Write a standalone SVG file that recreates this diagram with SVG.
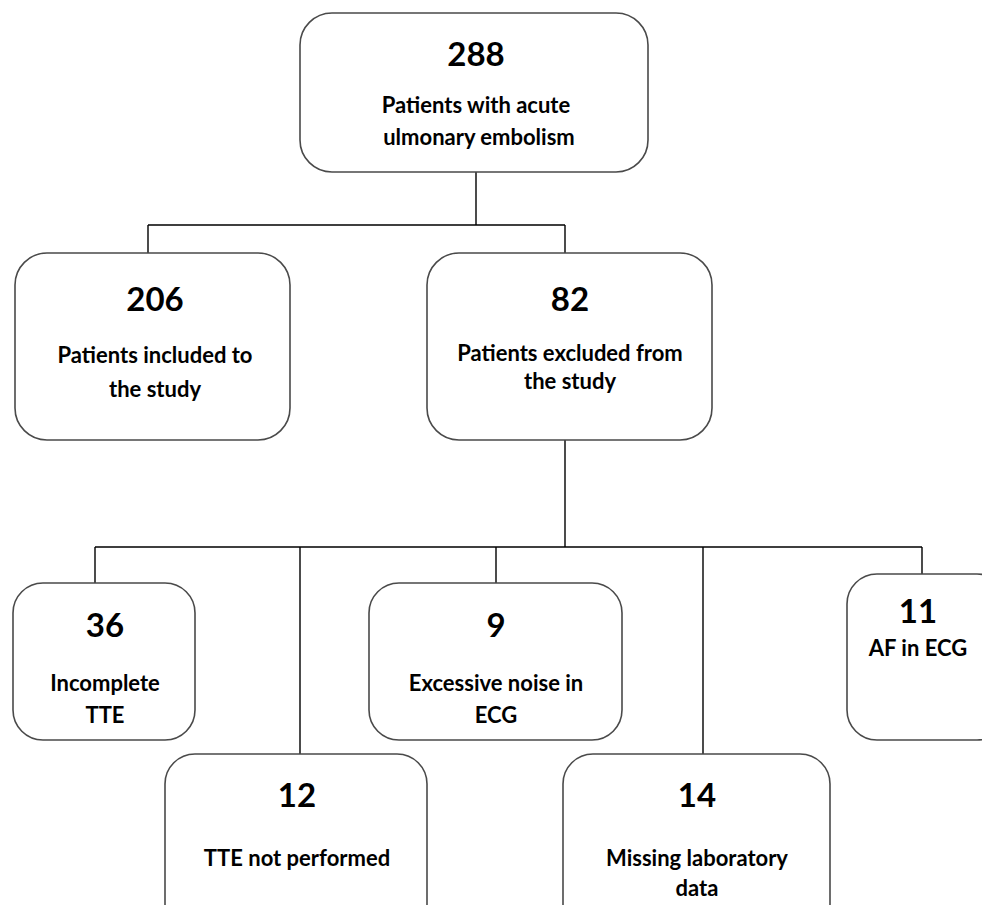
<svg xmlns="http://www.w3.org/2000/svg" width="982" height="905" viewBox="0 0 982 905">
<style>
.box{fill:#fff;stroke:#4a4a4a;stroke-width:1.6}
.num{font-family:Lato,"Liberation Sans",sans-serif;font-weight:bold;font-size:33px;fill:#000;text-anchor:middle}
.lbl{font-family:Lato,"Liberation Sans",sans-serif;font-weight:bold;font-size:22px;fill:#000;text-anchor:middle}
.conn{stroke:#000;stroke-width:1.4;fill:none}
</style>
<rect width="982" height="905" fill="#fff"/>
<g id="connectors">
<path class="conn" d="M476 172V225M148 225H565M148 225V253M565 225V253"/>
<path class="conn" d="M565 440V547M95 547H922M95 547V583M300 547V754M496 547V583M703 547V754M922 547V574"/>
</g>
<g id="n288">
<rect class="box" x="300" y="13" width="348" height="159" rx="32"/>
<text class="num" x="476" y="66">288</text>
<text class="lbl" x="476" y="113">Patients with acute</text>
<text class="lbl" x="479" y="145">ulmonary embolism</text>
</g>
<g id="n206">
<rect class="box" x="15" y="253" width="275" height="187" rx="32"/>
<text class="num" x="155" y="311">206</text>
<text class="lbl" x="155" y="363">Patients included to</text>
<text class="lbl" x="155" y="397">the study</text>
</g>
<g id="n82">
<rect class="box" x="427" y="253" width="285" height="187" rx="32"/>
<text class="num" x="570" y="311">82</text>
<text class="lbl" x="570" y="361">Patients excluded from</text>
<text class="lbl" x="570" y="389">the study</text>
</g>
<g id="n36">
<rect class="box" x="13" y="583" width="182" height="157" rx="30"/>
<text class="num" x="105" y="637">36</text>
<text class="lbl" x="105" y="691">Incomplete</text>
<text class="lbl" x="105" y="723">TTE</text>
</g>
<g id="n9">
<rect class="box" x="369" y="583" width="253" height="157" rx="30"/>
<text class="num" x="496" y="637">9</text>
<text class="lbl" x="496" y="691">Excessive noise in</text>
<text class="lbl" x="496" y="723">ECG</text>
</g>
<g id="n11">
<rect class="box" x="847" y="574" width="160" height="166" rx="30"/>
<text class="num" x="918" y="623">11</text>
<text class="lbl" x="918" y="656">AF in ECG</text>
</g>
<g id="n12">
<rect class="box" x="165" y="754" width="262" height="180" rx="30"/>
<text class="num" x="297" y="807">12</text>
<text class="lbl" x="297" y="866">TTE not performed</text>
</g>
<g id="n14">
<rect class="box" x="563" y="754" width="267" height="180" rx="30"/>
<text class="num" x="697" y="807">14</text>
<text class="lbl" x="697" y="866">Missing laboratory</text>
<text class="lbl" x="697" y="896">data</text>
</g>
</svg>
